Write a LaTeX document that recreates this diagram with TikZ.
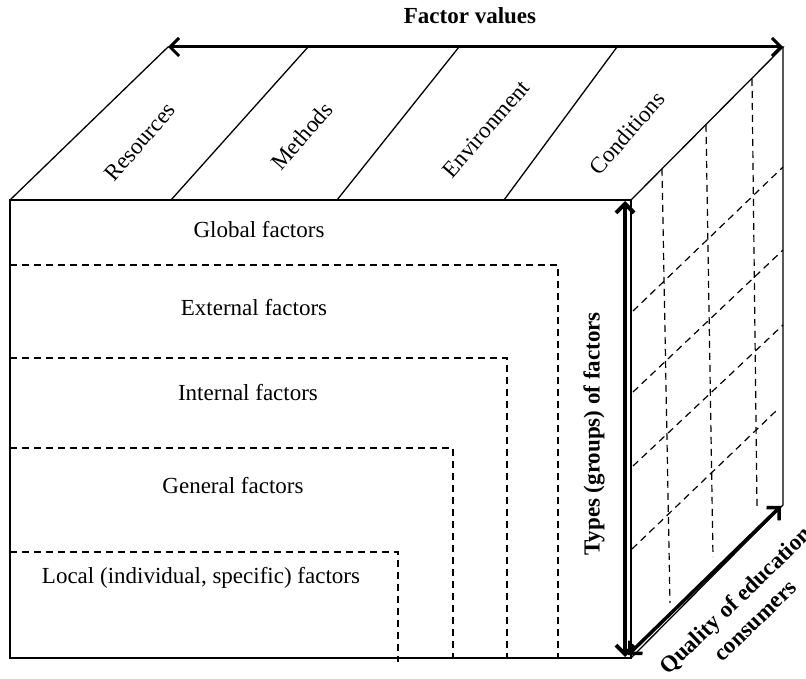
\documentclass[tikz,border=0pt]{standalone}
\usepackage{fontspec}
\setmainfont{Liberation Serif}
\usetikzlibrary{arrows.meta}
\begin{document}
\begin{tikzpicture}[x=1pt,y=-1pt,
  edge/.style={line width=1.3pt, line join=miter},
  dashline/.style={line width=1.2pt, dash pattern=on 7pt off 5pt},
  bigarrow/.style={line width=3.5pt, {Straight Barb[length=9pt,width=18pt]}-{Straight Barb[length=9pt,width=18pt]}},
  lbl/.style={font=\fontsize{23}{27}\selectfont, inner sep=0pt},
  blbl/.style={font=\fontsize{23}{28}\selectfont\bfseries, inner sep=0pt}]
\useasboundingbox (0,0) rectangle (806,679);
\fill[white] (0,0) rectangle (806,679);
% cube corners
\coordinate (FTL) at (10,200);
\coordinate (FTR) at (631,200);
\coordinate (FBR) at (631,658);
\coordinate (FBL) at (10,658);
\coordinate (BTL) at (168,47);
\coordinate (BTR) at (783,47);
\coordinate (BBR) at (783,505);
% cube edges
\draw[edge] (FTL) -- (FTR) -- (FBR) -- (FBL) -- cycle;
\draw[edge] (FTL) -- (BTL) -- (BTR) -- (FTR);
\draw[edge] (BTR) -- (BBR) -- (FBR);
% top face separators
\coordinate (S1t) at (308,47); \coordinate (S1b) at (171,200);
\coordinate (S2t) at (459,47); \coordinate (S2b) at (337,200);
\coordinate (S3t) at (617,47); \coordinate (S3b) at (504,200);
\draw[edge] (S1t) -- (S1b);
\draw[edge] (S2t) -- (S2b);
\draw[edge] (S3t) -- (S3b);
% front face dashed boxes
\draw[dashline] (10,265) -- (558,265) -- (558,658);
\draw[dashline] (10,358) -- (507,358) -- (507,658);
\draw[dashline] (10,448) -- (453,448) -- (453,658);
\draw[dashline] (10,552) -- (398,552) -- (398,662);
% side face dashed grid
\draw[dashline] (662,169) -- (670,603);
\draw[dashline] (706,125) -- (713,557);
\draw[dashline] (752,79) -- (757,508);
\draw[dashline] (633,311) -- (783,167);
\draw[dashline] (633,392) -- (783,250);
\draw[dashline] (633,466) -- (783,325);
\draw[dashline] (632,549) -- (777,410);
% arrows
\coordinate (VA1) at (625,201);
\coordinate (VA2) at (625,657);
\coordinate (QA1) at (628,655);
\coordinate (QA2) at (781,506);
\draw[bigarrow, line width=3pt] (BTL) -- (BTR);
\draw[bigarrow, line width=4pt] (VA1) -- (VA2);
\draw[bigarrow, line width=3.5pt] (QA1) -- (QA2);
% labels
\node[blbl] (fv) at (470,16) {Factor values};
\node[lbl, rotate=49] (res) at (140,142) {Resources};
\node[lbl, rotate=49] (met) at (302,136) {Methods};
\node[lbl, rotate=49] (env) at (486,129) {Environment};
\node[lbl, rotate=49] (con) at (627,133) {Conditions};
\node[lbl, anchor=base] (glob) at (259,238) {Global factors};
\node[lbl, anchor=base] (ext) at (254,315) {External factors};
\node[lbl, anchor=base] (int) at (248,400) {Internal factors};
\node[lbl, anchor=base] (gen) at (233,493) {General factors};
\node[lbl, anchor=base] (loc) at (201,583) {Local (individual, specific) factors};
\node[blbl, rotate=90] (types) at (594,434) {Types (groups) of factors};
\node[blbl, rotate=44, align=center] (qual) at (745,610) {Quality of education\\consumers};
\end{tikzpicture}
\end{document}
